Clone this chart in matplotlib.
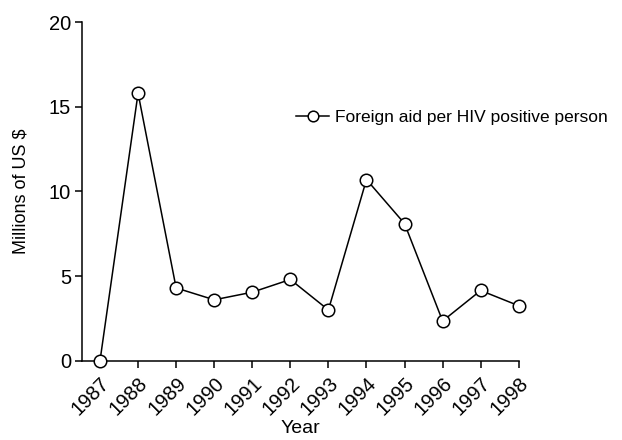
import numpy as np
import matplotlib.pyplot as plt

# --- DATA ---
years = [1987, 1988, 1989, 1990, 1991, 1992, 1993, 1994, 1995, 1996, 1997, 1998]
aid = [0.0, 15.8, 4.3, 3.6, 4.05, 4.8, 3.0, 10.7, 8.1, 2.35, 4.15, 3.25]
y_ticks = [0, 5, 10, 15, 20]

plt.rcParams['font.family'] = ['Liberation Sans', 'DejaVu Sans']

fig = plt.figure(figsize=(6.22, 4.4), dpi=100)
ax = fig.add_axes([0.132, 0.180, 0.702, 0.770])

ax.plot(years, aid, color='black', lw=1.1, marker='o', ms=9,
        mfc='white', mec='black', mew=1.1, clip_on=False, zorder=3,
        label='Foreign aid per HIV positive person')

ax.set_xlim(1987 - 0.47, 1998)
ax.set_ylim(0, 20)
ax.set_xticks(years)
ax.set_xticklabels([str(y) for y in years], rotation=45, ha='right',
                   rotation_mode='anchor', fontsize=14.5)
ax.set_yticks(y_ticks)
ax.set_yticklabels([str(v) for v in y_ticks], fontsize=14.5)
ax.tick_params(direction='out', length=5, width=1.1, color='black')
ax.tick_params(axis='y', pad=3)
ax.tick_params(axis='x', pad=4)

for s in ['top', 'right']:
    ax.spines[s].set_visible(False)
for s in ['left', 'bottom']:
    ax.spines[s].set_linewidth(1.1)

ax.set_xlabel('Year', fontsize=14, labelpad=1)
ax.set_ylabel('Millions of US $', fontsize=13, labelpad=14)

leg = ax.legend(loc='center left', bbox_to_anchor=(0.49, 0.717), frameon=False,
                fontsize=12.5, handlelength=1.9, handletextpad=0.35,
                markerscale=0.85, borderaxespad=0, borderpad=0)

fig.savefig('out.png', dpi=100)
